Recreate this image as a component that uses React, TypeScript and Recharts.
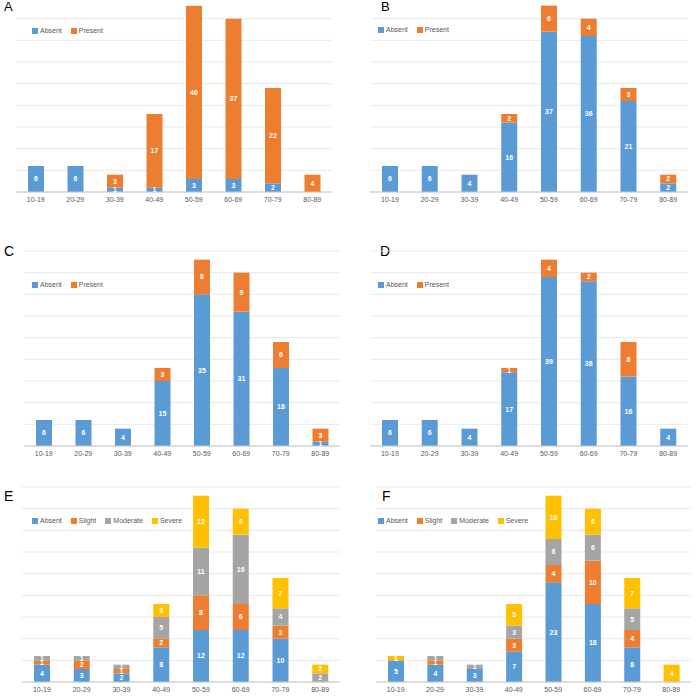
import { BarChart, Bar, XAxis, YAxis, CartesianGrid, Legend, LabelList } from "recharts"

const ageGroups = ["10-19", "20-29", "30-39", "40-49", "50-59", "60-69", "70-79", "80-89"]
const yTicks = [0, 5, 10, 15, 20, 25, 30, 35, 40, 45]

const aAbsent = [6, 6, 1, 1, 3, 3, 2, 0]
const aPresent = [0, 0, 3, 17, 40, 37, 22, 4]

const bAbsent = [6, 6, 4, 16, 37, 36, 21, 2]
const bPresent = [0, 0, 0, 2, 6, 4, 3, 2]

const cAbsent = [6, 6, 4, 15, 35, 31, 18, 1]
const cPresent = [0, 0, 0, 3, 8, 9, 6, 3]

const dAbsent = [6, 6, 4, 17, 39, 38, 16, 4]
const dPresent = [0, 0, 0, 1, 4, 2, 8, 0]

const eAbsent = [4, 3, 2, 8, 12, 12, 10, 0]
const eSlight = [1, 2, 1, 2, 8, 6, 3, 0]
const eModerate = [1, 1, 1, 5, 11, 16, 4, 2]
const eSevere = [0, 0, 0, 3, 12, 6, 7, 2]

const fAbsent = [5, 4, 3, 7, 23, 18, 8, 0]
const fSlight = [0, 1, 0, 3, 4, 10, 4, 0]
const fModerate = [0, 1, 1, 3, 6, 6, 5, 0]
const fSevere = [1, 0, 0, 5, 10, 6, 7, 4]

const colors: Record<string, string> = {
  Absent: "#5B9BD5",
  Present: "#ED7D31",
  Slight: "#ED7D31",
  Moderate: "#A5A5A5",
  Severe: "#FFC000",
}

type Series = [string, number[]]

const panels = [
  {
    name: "A",
    series: [["Absent", aAbsent], ["Present", aPresent]] as Series[],
    left: 0, x0: 16, x1: 332, yTop: -3, yBase: 192,
    labelX: 4, labelY: 12, labelSize: 13, legendX: 32, legendY: 31,
  },
  {
    name: "B",
    series: [["Absent", bAbsent], ["Present", bPresent]] as Series[],
    left: 348, x0: 370, x1: 688, yTop: -3, yBase: 192,
    labelX: 381, labelY: 12, labelSize: 13, legendX: 378, legendY: 30,
  },
  {
    name: "C",
    series: [["Absent", cAbsent], ["Present", cPresent]] as Series[],
    left: 0, x0: 24, x1: 340, yTop: 251, yBase: 446,
    labelX: 4, labelY: 257, labelSize: 14, legendX: 32, legendY: 285,
  },
  {
    name: "D",
    series: [["Absent", dAbsent], ["Present", dPresent]] as Series[],
    left: 348, x0: 370, x1: 688, yTop: 251, yBase: 446,
    labelX: 380, labelY: 257, labelSize: 14, legendX: 378, legendY: 285,
  },
  {
    name: "E",
    series: [["Absent", eAbsent], ["Slight", eSlight], ["Moderate", eModerate], ["Severe", eSevere]] as Series[],
    left: 0, x0: 22, x1: 340, yTop: 487, yBase: 682,
    labelX: 4, labelY: 502, labelSize: 14, legendX: 32, legendY: 521,
  },
  {
    name: "F",
    series: [["Absent", fAbsent], ["Slight", fSlight], ["Moderate", fModerate], ["Severe", fSevere]] as Series[],
    left: 348, x0: 376, x1: 691, yTop: 487, yBase: 682,
    labelX: 382, labelY: 502, labelSize: 14, legendX: 378, legendY: 521,
  },
]

const font = "'Liberation Sans', Arial, sans-serif"

const makeLegend = (order: string[]) => (props: any) => {
  const items = [...(props.payload || [])].sort(
    (a: any, b: any) => order.indexOf(a.value) - order.indexOf(b.value)
  )
  return (
    <div style={{ display: "flex", alignItems: "center", fontSize: 7, lineHeight: "10px", color: "#595959", fontFamily: font }}>
      {items.map((p: any) => (
        <span key={p.value} style={{ display: "flex", alignItems: "center", marginRight: 9 }}>
          <span style={{ display: "inline-block", width: 6, height: 6, background: p.color, marginRight: 2 }} />
          {p.value}
        </span>
      ))}
    </div>
  )
}

// grid lines every 5 units, placed through the y axis scale
const gridFromScale = (props: any) => {
  const scale = props?.yAxis?.scale
  if (typeof scale === "function") return yTicks.map((t) => scale(t))
  if (scale && typeof scale.map === "function") return yTicks.map((t) => scale.map(t))
  return []
}

function Panel({ p }: { p: (typeof panels)[number] }) {
  const data = ageGroups.map((g, i) => {
    const row: Record<string, string | number> = { group: g }
    p.series.forEach(([key, vals]) => {
      row[key] = vals[i]
    })
    return row
  })
  const order = p.series.map(([key]) => key)
  const chartTop = p.yTop - 5
  const width = 348
  const height = p.yBase - p.yTop + 5 + 25
  return (
    <>
      <div
        style={{
          position: "absolute",
          left: p.labelX,
          top: p.labelY - p.labelSize * 0.9,
          fontSize: p.labelSize,
          lineHeight: 1,
          fontFamily: font,
          color: "#000",
        }}
      >
        {p.name}
      </div>
      <div style={{ position: "absolute", left: p.left, top: chartTop, width, height }}>
        <BarChart
          width={width}
          height={height}
          data={data}
          margin={{ top: 5, right: p.left + width - p.x1, bottom: 0, left: p.x0 - p.left }}
          barSize={16}
          style={{ fontFamily: font }}
        >
          <CartesianGrid
            vertical={false}
            stroke="#E3E3E3"
            strokeWidth={0.8}
            horizontalCoordinatesGenerator={gridFromScale}
          />
          <XAxis
            dataKey="group"
            interval={0}
            height={25}
            tickLine={false}
            tickSize={3}
            axisLine={{ stroke: "#C8C8C8" }}
            tick={{ fontSize: 7, fill: "#595959" }}
          />
          <YAxis hide domain={[0, 45]} ticks={yTicks} />
          <Legend
            layout="horizontal"
            verticalAlign="middle"
            align="center"
            content={makeLegend(order)}
            wrapperStyle={{ top: p.legendY - chartTop - 5, left: p.legendX - p.left, width: "auto", height: "auto" }}
          />
          {p.series.map(([key]) => (
            <Bar key={key} dataKey={key} name={key} stackId="s" fill={colors[key]} isAnimationActive={false}>
              <LabelList
                dataKey={key}
                position="center"
                fill="#fff"
                fontSize={7}
                fontWeight="bold"
                formatter={(v: any) => (v ? v : "")}
              />
            </Bar>
          ))}
        </BarChart>
      </div>
    </>
  )
}

export default function App() {
  return (
    <div
      style={{
        position: "absolute",
        left: 0,
        top: 0,
        width: 696,
        height: 698,
        background: "#fff",
        overflow: "hidden",
      }}
    >
      {panels.map((p) => (
        <Panel key={p.name} p={p} />
      ))}
    </div>
  )
}
